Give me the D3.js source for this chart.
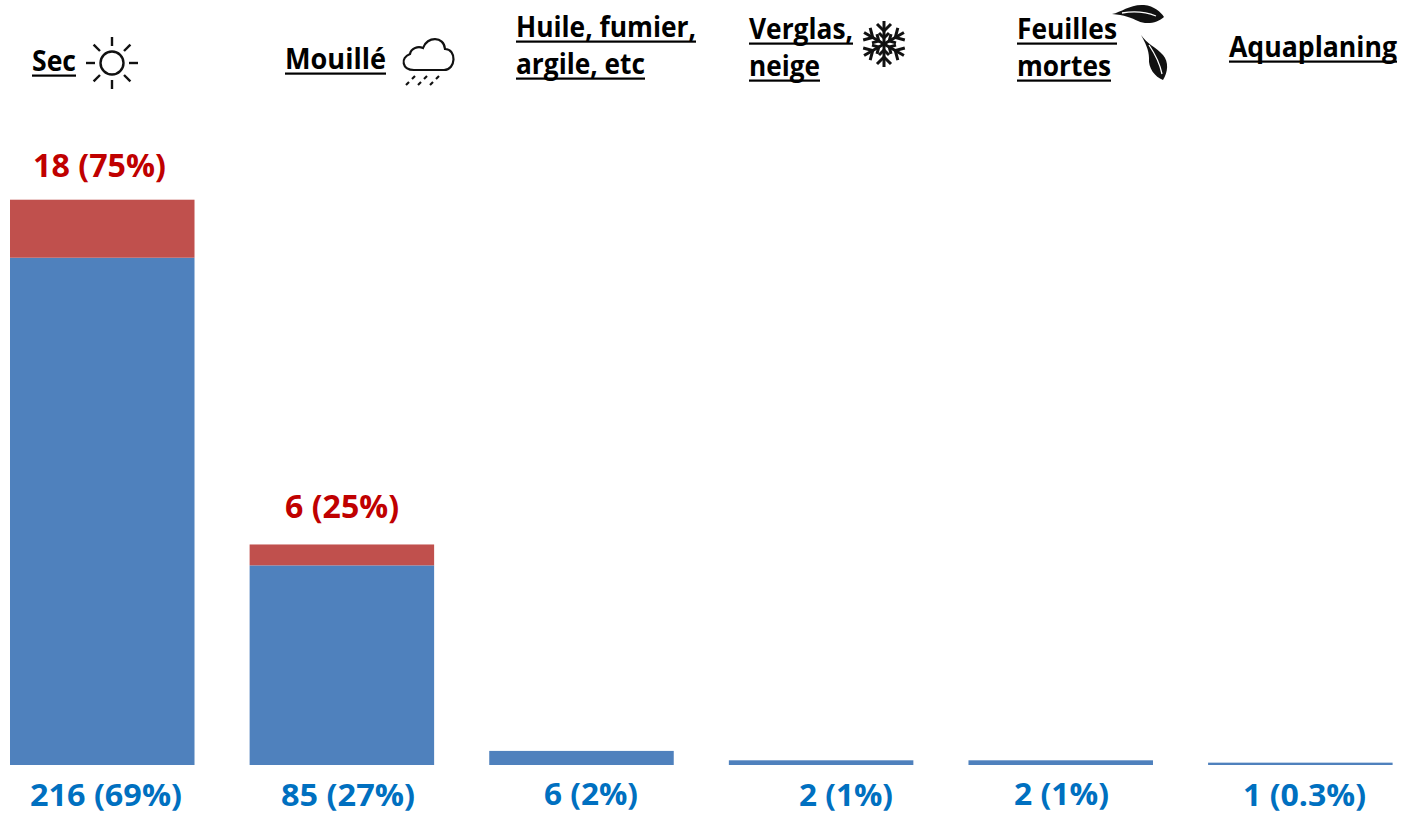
<!DOCTYPE html>
<html>
<head>
<meta charset="utf-8">
<script src="https://d3js.org/d3.v7.min.js"></script>
<style>
  html, body { margin: 0; padding: 0; background: #fff; overflow: hidden; }
  text { font-family: "Open Sans", sans-serif; font-weight: 700; }
</style>
</head>
<body>
<div id="chart"></div>
<script>
const categories = ["Sec", "Mouillé", "Huile", "Verglas", "Feuilles", "Aquaplaning"];
const blueValues = [216, 85, 6, 2, 2, 1];
// red segments are not to the blue scale in the picture, so these are read off in blue units
const redHeights = [24.7, 8.9, 0, 0, 0, 0];
const blueLabels = ["216 (69%)", "85 (27%)", "6 (2%)", "2 (1%)", "2 (1%)", "1 (0.3%)"];
const redLabels = ["18 (75%)", "6 (25%)"];

const width = 1401, height = 814;

const svg = d3.select("#chart").append("svg")
  .attr("width", width)
  .attr("height", height);

const x = d3.scaleBand()
  .domain(categories)
  .range([10, 1392.6])
  .paddingInner(0.23)
  .paddingOuter(0);

const y = d3.scaleLinear()
  .domain([0, 241])
  .range([765, 199]);

// Blue bars
svg.append("g").selectAll("rect")
  .data(categories)
  .join("rect")
  .attr("x", d => x(d))
  .attr("width", x.bandwidth())
  .attr("y", (d, i) => y(blueValues[i]))
  .attr("height", (d, i) => y(0) - y(blueValues[i]))
  .attr("fill", "#4f81bd");

// Red bars on top
svg.append("g").selectAll("rect")
  .data(categories.filter((d, i) => redHeights[i] > 0))
  .join("rect")
  .attr("x", d => x(d))
  .attr("width", x.bandwidth())
  .attr("y", (d, i) => y(blueValues[i] + redHeights[i]))
  .attr("height", (d, i) => y(blueValues[i]) - y(blueValues[i] + redHeights[i]))
  .attr("fill", "#c0504d");

// fixed width text, Calibri is not installed so the glyphs get squeezed to fit
function label(str, left, right, base, size, color) {
  svg.append("text")
    .attr("x", right)
    .attr("y", base)
    .attr("text-anchor", "end")
    .attr("textLength", right - left)
    .attr("lengthAdjust", "spacingAndGlyphs")
    .style("font-size", size + "px")
    .attr("fill", color)
    .text(str);
}

const blueSpots = [[30, 182, 806], [281, 415, 806], [544, 638, 805], [799, 893, 806], [1014, 1109, 805], [1243, 1366, 806]];
blueLabels.forEach((t, i) => label(t, blueSpots[i][0], blueSpots[i][1], blueSpots[i][2], 31, "#0070c0"));

const redSpots = [[33, 166, 177], [285, 399, 518]];
redLabels.forEach((t, i) => label(t, redSpots[i][0], redSpots[i][1], redSpots[i][2], 32, "#c00000"));

// Column headers, underlines drawn by hand since text-decoration breaks up on squeezed text
const headers = [
  ["Sec", 32, 76, 71],
  ["Mouillé", 285, 386, 69],
  ["Huile, fumier,", 516, 696, 37],
  ["argile, etc", 516, 645, 74],
  ["Verglas,", 749, 853, 39],
  ["neige", 749, 820, 76],
  ["Feuilles", 1017, 1117, 39],
  ["mortes", 1017, 1111, 76],
  ["Aquaplaning", 1229, 1397, 57]
];
headers.forEach(h => {
  label(h[0], h[1], h[2], h[3], 28, "#000");
  svg.append("rect")
    .attr("x", h[1]).attr("y", h[3] + 3.5)
    .attr("width", h[2] - h[1]).attr("height", 2.2)
    .attr("fill", "#000");
});

// Sun
const sun = svg.append("g").attr("transform", "translate(112,63)")
  .attr("stroke", "#111").attr("fill", "none").attr("stroke-width", 2.4);
sun.append("circle").attr("r", 11.5);
d3.range(8).forEach(i => {
  const a = i * Math.PI / 4;
  sun.append("line")
    .attr("x1", 17 * Math.cos(a)).attr("y1", 17 * Math.sin(a))
    .attr("x2", 26 * Math.cos(a)).attr("y2", 26 * Math.sin(a));
});

// Rain cloud
const cloud = svg.append("g").attr("stroke", "#111").attr("fill", "none").attr("stroke-width", 2.2);
cloud.append("path")
  .attr("d", "M414,70 C402,70 400,58 410,54 C411,48 418,46 423,48 C427,36 444,36 445,49 C457,49 456,70 444,70 Z");
[[406, 85, 409, 82], [412, 79, 415, 76], [418, 85, 421, 82], [424, 79, 427, 76], [430, 85, 433, 82], [436, 79, 439, 76]]
  .forEach(d => cloud.append("line").attr("x1", d[0]).attr("y1", d[1]).attr("x2", d[2]).attr("y2", d[3]));

// Snowflake
const flake = svg.append("g").attr("transform", "translate(884,44)")
  .attr("stroke", "#111").attr("fill", "none").attr("stroke-width", 3);
d3.range(6).forEach(i => {
  const arm = flake.append("g").attr("transform", `rotate(${i * 60})`);
  arm.append("line").attr("x1", 0).attr("y1", 0).attr("x2", 0).attr("y2", -23);
  arm.append("path").attr("d", "M-7,-20 L0,-13 L7,-20");
  arm.append("path").attr("d", "M-5,-11 L0,-6 L5,-11");
});

// Leaves
const leaves = svg.append("g").attr("fill", "#111");
leaves.append("path").attr("d", "M1112,14 C1122,12 1130,4 1144,5 C1154,6 1161,12 1164,17 C1158,23 1146,25 1138,21 C1132,18 1124,15 1112,14 Z");
leaves.append("path").attr("d", "M1141,35 C1147,44 1156,47 1163,55 C1169,62 1168,72 1163,80 C1155,77 1148,68 1149,58 C1149,50 1145,42 1141,35 Z");
leaves.append("path").attr("d", "M1122,13 C1134,11 1146,12 1156,16").attr("fill", "none").attr("stroke", "#fff").attr("stroke-width", 1.3);
leaves.append("path").attr("d", "M1149,45 C1155,54 1160,64 1162,74").attr("fill", "none").attr("stroke", "#fff").attr("stroke-width", 1.3);
</script>
</body>
</html>
